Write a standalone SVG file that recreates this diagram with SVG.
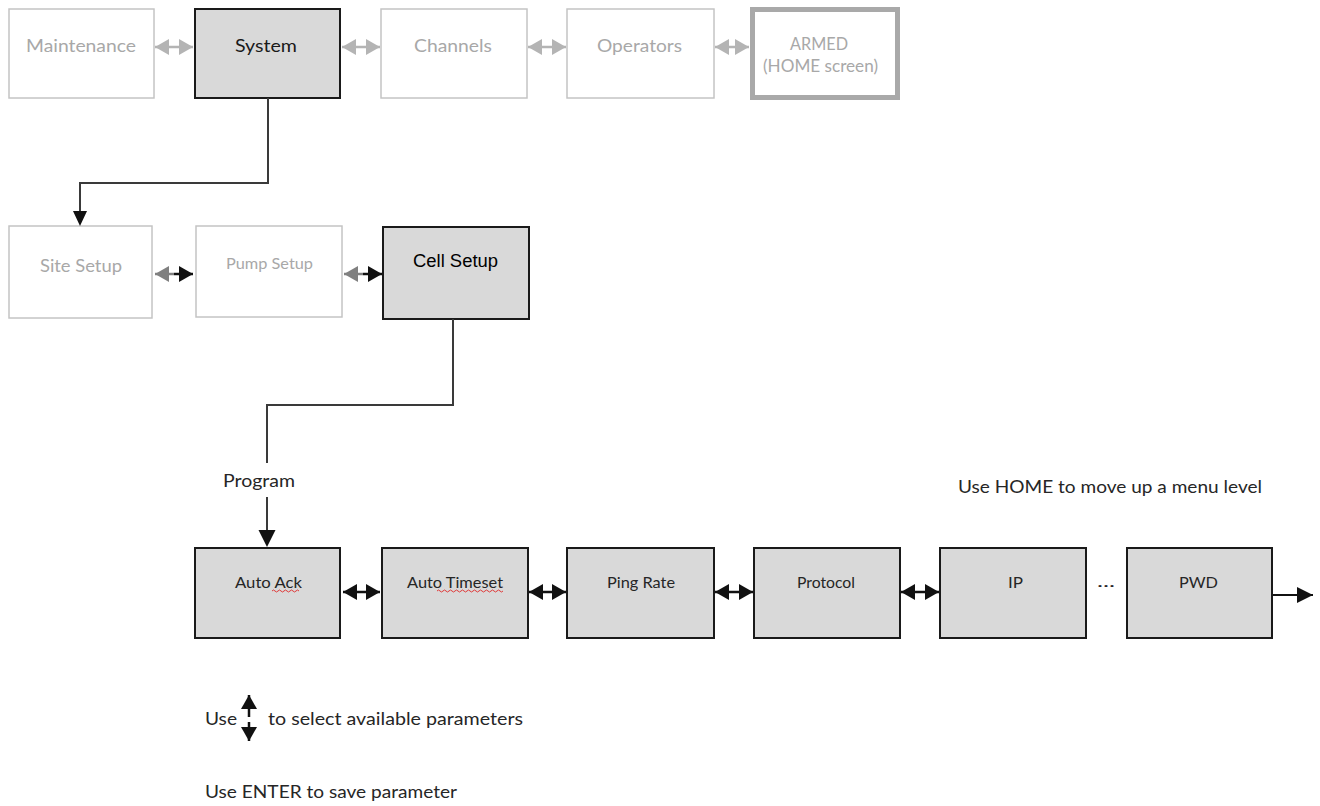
<svg xmlns="http://www.w3.org/2000/svg" width="1320" height="806" viewBox="0 0 1320 806">
<style>
  .off{fill:#ffffff;stroke:#c4c4c4;stroke-width:1.5}
  .on{fill:#d9d9d9;stroke:#1a1a1a;stroke-width:2}
  .home{fill:#ffffff;stroke:#a9a9a9;stroke-width:5}
  .t{font-family:Lato,"Open Sans","Liberation Sans",sans-serif;font-size:18px;fill:#262626}
  .tg{font-family:Lato,"Open Sans","Liberation Sans",sans-serif;font-size:18px;fill:#a8a8a8}
  .ts{font-family:Lato,"Open Sans","Liberation Sans",sans-serif;font-size:16px;fill:#262626}
  .arial{font-family:"Liberation Sans",Arial,sans-serif;font-size:18px;fill:#000}
  .conn{fill:none;stroke:#3a3a3a;stroke-width:2}
  .lg{stroke:#b4b4b4;stroke-width:2.5;fill:none}
  .mg{stroke:#808080;stroke-width:2.5;fill:none}
  .bk{stroke:#111;stroke-width:2.5;fill:none}
  .squig{fill:none;stroke:#e03a3a;stroke-width:1}
</style>
<defs>
  <marker id="hb" markerUnits="userSpaceOnUse" markerWidth="14" markerHeight="16" refX="14" refY="8" orient="auto-start-reverse"><path d="M0,0 L14,8 L0,16 z" fill="#111"/></marker>
  <marker id="hg" markerUnits="userSpaceOnUse" markerWidth="14" markerHeight="16" refX="14" refY="8" orient="auto-start-reverse"><path d="M0,0 L14,8 L0,16 z" fill="#808080"/></marker>
  <marker id="hl" markerUnits="userSpaceOnUse" markerWidth="14" markerHeight="16" refX="14" refY="8" orient="auto-start-reverse"><path d="M0,0 L14,8 L0,16 z" fill="#b4b4b4"/></marker>
  <marker id="hd" markerUnits="userSpaceOnUse" markerWidth="18" markerHeight="18" refX="16" refY="8" orient="auto"><path d="M0,0 L16,8 L0,16 z" fill="#111"/></marker>
</defs>
<rect width="1320" height="806" fill="#ffffff"/>

<g id="maintenance"><rect class="off" x="9" y="9" width="145" height="89"/><text class="tg" x="26" y="52" textLength="110" lengthAdjust="spacingAndGlyphs">Maintenance</text></g>
<g id="system"><rect class="on" x="195" y="9" width="145" height="89"/><text class="t" x="235" y="52" textLength="62" lengthAdjust="spacingAndGlyphs" style="fill:#1a1a1a">System</text></g>
<g id="channels"><rect class="off" x="381" y="9" width="146" height="89"/><text class="tg" x="414" y="52" textLength="78" lengthAdjust="spacingAndGlyphs">Channels</text></g>
<g id="operators"><rect class="off" x="567" y="9" width="147" height="89"/><text class="tg" x="597" y="52" textLength="85" lengthAdjust="spacingAndGlyphs">Operators</text></g>
<g id="armed"><rect class="home" x="752.5" y="9.5" width="145" height="88"/><text class="tg" x="790" y="50" textLength="58" lengthAdjust="spacingAndGlyphs">ARMED</text><text class="tg" x="763" y="72" textLength="115" lengthAdjust="spacingAndGlyphs">(HOME screen)</text></g>

<g id="site-setup"><rect class="off" x="9" y="226" width="143" height="92"/><text class="tg" x="40" y="272" textLength="82" lengthAdjust="spacingAndGlyphs">Site Setup</text></g>
<g id="pump-setup"><rect class="off" x="196" y="226" width="146" height="91"/><text class="tg" x="226" y="269" textLength="87" lengthAdjust="spacingAndGlyphs" style="font-size:16px">Pump Setup</text></g>
<g id="cell-setup"><rect class="on" x="383" y="227" width="146" height="92"/><text class="arial" x="413" y="267" textLength="85" lengthAdjust="spacingAndGlyphs">Cell Setup</text></g>

<g id="auto-ack"><rect class="on" x="195" y="548" width="145" height="90"/><text class="ts" x="235" y="588" textLength="67" lengthAdjust="spacingAndGlyphs">Auto Ack</text><path class="squig" d="M272,591 q1.5,-2 3,0 t3,0 t3,0 t3,0 t3,0 t3,0 t3,0 t3,0 t3,0"/></g>
<g id="auto-timeset"><rect class="on" x="382" y="548" width="146" height="90"/><text class="ts" x="407" y="588" textLength="96" lengthAdjust="spacingAndGlyphs">Auto Timeset</text><path class="squig" d="M437,591 q1.5,-2 3,0 t3,0 t3,0 t3,0 t3,0 t3,0 t3,0 t3,0 t3,0 t3,0 t3,0 t3,0 t3,0 t3,0 t3,0 t3,0 t3,0 t3,0 t3,0 t3,0 t3,0 t3,0"/></g>
<g id="ping-rate"><rect class="on" x="567" y="548" width="147" height="90"/><text class="ts" x="607" y="588" textLength="68" lengthAdjust="spacingAndGlyphs">Ping Rate</text></g>
<g id="protocol"><rect class="on" x="754" y="548" width="146" height="90"/><text class="ts" x="797" y="588" textLength="58" lengthAdjust="spacingAndGlyphs">Protocol</text></g>
<g id="ip"><rect class="on" x="940" y="548" width="146" height="90"/><text class="ts" x="1008" y="588" textLength="15" lengthAdjust="spacingAndGlyphs">IP</text></g>
<g id="pwd"><rect class="on" x="1127" y="548" width="145" height="90"/><text class="ts" x="1179" y="588" textLength="39" lengthAdjust="spacingAndGlyphs">PWD</text></g>

<g id="connectors">
  <line class="lg" x1="155" y1="47" x2="193" y2="47" marker-start="url(#hl)" marker-end="url(#hl)"/>
  <line class="lg" x1="342" y1="47" x2="380" y2="47" marker-start="url(#hl)" marker-end="url(#hl)"/>
  <line class="lg" x1="528" y1="47" x2="566" y2="47" marker-start="url(#hl)" marker-end="url(#hl)"/>
  <line class="lg" x1="715" y1="47" x2="749" y2="47" marker-start="url(#hl)" marker-end="url(#hl)"/>

  <path class="conn" d="M268,98 V183 H80 V212"/>
  <path d="M73,211 L87,211 L80,226 z" fill="#111"/>

  <line class="mg" x1="174" y1="274" x2="155" y2="274" marker-end="url(#hg)"/>
  <line class="bk" x1="174" y1="274" x2="193" y2="274" marker-end="url(#hb)"/>
  <line class="mg" x1="363" y1="274" x2="344" y2="274" marker-end="url(#hg)"/>
  <line class="bk" x1="363" y1="274" x2="382" y2="274" marker-end="url(#hb)"/>

  <path class="conn" d="M453,319 V405 H267 V463"/>
  <path class="conn" d="M267,497 V531"/>
  <path d="M258.5,530 L275.5,530 L267,547 z" fill="#111"/>

  <line class="bk" x1="343" y1="592" x2="380" y2="592" marker-start="url(#hb)" marker-end="url(#hb)"/>
  <line class="bk" x1="529" y1="592" x2="566" y2="592" marker-start="url(#hb)" marker-end="url(#hb)"/>
  <line class="bk" x1="715" y1="592" x2="753" y2="592" marker-start="url(#hb)" marker-end="url(#hb)"/>
  <line class="bk" x1="901" y1="592" x2="939" y2="592" marker-start="url(#hb)" marker-end="url(#hb)"/>
  <line class="conn" x1="1273" y1="595" x2="1313" y2="595" marker-end="url(#hd)" style="stroke:#111"/>

  <line class="bk" x1="249" y1="717" x2="249" y2="695" marker-end="url(#hb)"/>
  <line class="bk" x1="249" y1="722" x2="249" y2="741" marker-end="url(#hb)"/>
</g>

<text class="t" x="223" y="487" textLength="72" lengthAdjust="spacingAndGlyphs">Program</text>
<text class="ts" x="1097" y="587" textLength="18" lengthAdjust="spacingAndGlyphs">...</text>
<text class="t" x="958" y="493" textLength="304" lengthAdjust="spacingAndGlyphs">Use HOME to move up a menu level</text>
<text class="t" x="205" y="725" textLength="32" lengthAdjust="spacingAndGlyphs">Use</text>
<text class="t" x="268" y="725" textLength="255" lengthAdjust="spacingAndGlyphs">to select available parameters</text>
<text class="t" x="205" y="798" textLength="252" lengthAdjust="spacingAndGlyphs">Use ENTER to save parameter</text>
</svg>
